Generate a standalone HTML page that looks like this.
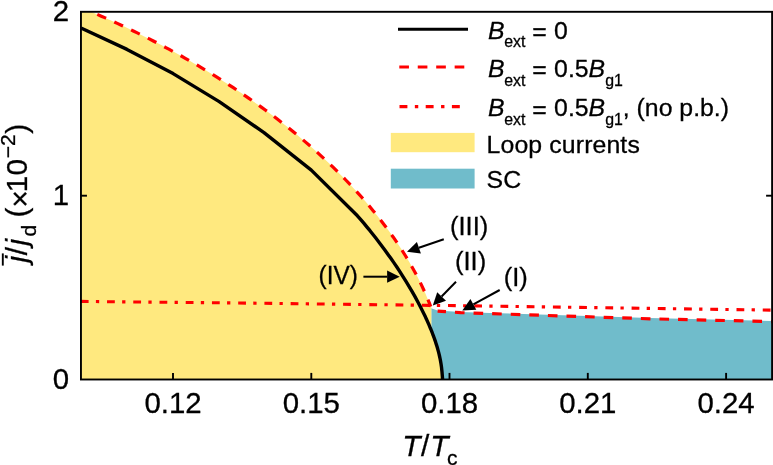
<!DOCTYPE html>
<html><head><meta charset="utf-8"><title>Phase diagram</title>
<style>
html,body{margin:0;padding:0;background:#fff;}
body{width:773px;height:465px;overflow:hidden;}
svg{display:block;}
text{font-family:"Liberation Sans", sans-serif;fill:#000;stroke:#000;stroke-width:0.3px;}
.i{font-style:italic;}
</style></head><body>
<svg width="773" height="465" viewBox="0 0 773 465">
<rect width="773" height="465" fill="#fff"/>
<polygon points="431.3,308.0 431.8,308.5 437.6,310.5 460.6,311.9 490.0,312.9 650.0,318.1 772.1,320.9 772.1,379.5 431.3,379.5" fill="#70bccb"/>
<polygon points="81.0,379.5 81.0,11.8 91.2,11.8 97.3,14.4 101.3,16.2 105.3,17.9 109.3,19.7 113.3,21.5 117.3,23.4 121.3,25.2 125.3,27.1 129.3,29.0 133.3,31.0 137.3,32.9 141.3,34.9 145.3,36.9 149.3,38.9 153.3,41.0 157.3,43.0 161.3,45.1 165.3,47.3 169.3,49.4 173.3,51.6 177.3,53.8 181.3,56.0 185.3,58.3 189.3,60.6 193.3,62.9 197.3,65.2 201.3,67.6 205.3,70.0 209.3,72.4 213.3,74.9 217.3,77.4 221.3,79.9 225.3,82.5 229.3,85.1 233.3,87.7 237.3,90.4 241.3,93.1 245.3,95.8 249.3,98.6 253.3,101.4 257.3,104.2 261.3,107.1 265.3,110.0 269.3,113.0 273.3,116.0 277.3,119.1 281.3,122.2 285.3,125.3 289.3,128.5 293.3,131.8 297.3,135.1 301.3,138.4 305.3,141.9 309.3,145.3 313.3,148.8 317.3,152.4 321.3,156.1 325.3,159.8 329.3,163.6 333.3,167.4 337.3,171.4 341.3,175.4 345.3,179.5 349.3,183.6 353.3,187.9 357.3,192.3 361.3,196.8 365.3,201.3 369.3,206.0 373.3,210.9 377.3,215.8 381.3,220.9 385.3,226.2 389.3,231.6 393.3,237.2 397.3,243.1 401.3,249.1 405.3,255.5 409.3,262.1 413.3,269.2 417.3,276.6 421.3,284.6 425.3,293.3 429.3,302.9 430.7,306.6 431.3,306.6 431.3,379.5" fill="#ffe97f"/>
<polygon points="430.7,379.5 431.0,329.7 431.5,330.9 432.0,332.2 432.5,333.5 433.0,334.8 433.5,336.1 434.0,337.5 434.5,338.9 435.0,340.4 435.5,341.8 436.0,343.4 436.5,344.9 437.0,346.6 437.5,348.3 438.0,350.1 438.5,351.9 439.0,353.9 439.5,356.0 440.0,358.3 440.5,360.9 441.0,363.8 441.5,367.2 442.0,372.0 442.6,379.5" fill="#ffe97f"/>
<g stroke="#000" stroke-width="1.9">
<line x1="173.0" y1="379.5" x2="173.0" y2="372.9"/>
<line x1="311.3" y1="379.5" x2="311.3" y2="372.9"/>
<line x1="449.5" y1="379.5" x2="449.5" y2="372.9"/>
<line x1="587.8" y1="379.5" x2="587.8" y2="372.9"/>
<line x1="726.1" y1="379.5" x2="726.1" y2="372.9"/>
<line x1="80.95" y1="195.7" x2="86.95" y2="195.7"/>
<line x1="772.1" y1="195.7" x2="766.1" y2="195.7"/>
</g>
<polyline points="80.8,301.4 138.0,302.0 258.0,303.2 490.0,306.1 650.0,308.4 772.1,310.1" fill="none" stroke="#ff0000" stroke-width="3.1" stroke-dasharray="7.8 7.3 3.3 7.83"/>
<polyline points="97.3,14.4 101.3,16.2 105.3,17.9 109.3,19.7 113.3,21.5 117.3,23.4 121.3,25.2 125.3,27.1 129.3,29.0 133.3,31.0 137.3,32.9 141.3,34.9 145.3,36.9 149.3,38.9 153.3,41.0 157.3,43.0 161.3,45.1 165.3,47.3 169.3,49.4 173.3,51.6 177.3,53.8 181.3,56.0 185.3,58.3 189.3,60.6 193.3,62.9 197.3,65.2 201.3,67.6 205.3,70.0 209.3,72.4 213.3,74.9 217.3,77.4 221.3,79.9 225.3,82.5 229.3,85.1 233.3,87.7 237.3,90.4 241.3,93.1 245.3,95.8 249.3,98.6 253.3,101.4 257.3,104.2 261.3,107.1 265.3,110.0 269.3,113.0 273.3,116.0 277.3,119.1 281.3,122.2 285.3,125.3 289.3,128.5 293.3,131.8 297.3,135.1 301.3,138.4 305.3,141.9 309.3,145.3 313.3,148.8 317.3,152.4 321.3,156.1 325.3,159.8 329.3,163.6 333.3,167.4 337.3,171.4 341.3,175.4 345.3,179.5 349.3,183.6 353.3,187.9 357.3,192.3 361.3,196.8 365.3,201.3 369.3,206.0 373.3,210.9 377.3,215.8 381.3,220.9 385.3,226.2 389.3,231.6 393.3,237.2 397.3,243.1 401.3,249.1 405.3,255.5 409.3,262.1 413.3,269.2 417.3,276.6 421.3,284.6 425.3,293.3 429.3,302.9 430.7,306.6" fill="none" stroke="#ff0000" stroke-width="3.2" stroke-dasharray="9.6 9"/>
<polyline points="437.6,311.2 460.6,312.6 490.0,313.6 650.0,318.8 772.1,321.6" fill="none" stroke="#ff0000" stroke-width="3.2" stroke-dasharray="9.6 9" stroke-dashoffset="1.2"/>
<polyline points="81.0,28.0 127.0,49.4 173.1,73.6 219.2,101.6 264.0,132.6 311.3,170.1 357.4,215.8 361.0,219.9 364.0,223.4 367.0,227.1 370.0,230.7 373.0,234.5 376.0,238.3 379.0,242.2 382.0,246.2 385.0,250.2 388.0,254.4 391.0,258.6 394.0,262.9 397.0,267.3 400.0,271.9 403.0,276.6 406.0,281.4 409.0,286.3 412.0,291.4 415.0,296.7 418.0,302.2 421.0,308.0 424.0,314.0 425.0,316.1 425.5,317.1 426.0,318.2 426.5,319.3 427.0,320.4 427.5,321.5 428.0,322.6 428.5,323.7 429.0,324.9 429.5,326.1 430.0,327.3 430.5,328.5 431.0,329.7 431.5,330.9 432.0,332.2 432.5,333.5 433.0,334.8 433.5,336.1 434.0,337.5 434.5,338.9 435.0,340.4 435.5,341.8 436.0,343.4 436.5,344.9 437.0,346.6 437.5,348.3 438.0,350.1 438.5,351.9 439.0,353.9 439.5,356.0 440.0,358.3 440.5,360.9 441.0,363.8 441.5,367.2 442.0,372.0 442.6,379.5" fill="none" stroke="#000" stroke-width="3.4" stroke-linejoin="round"/>
<rect x="80.95" y="11.8" width="691.15" height="367.7" fill="none" stroke="#000" stroke-width="1.9"/>
<text x="173.0" y="413.2" font-size="29.4" text-anchor="middle">0.12</text>
<text x="311.3" y="413.2" font-size="29.4" text-anchor="middle">0.15</text>
<text x="449.5" y="413.2" font-size="29.4" text-anchor="middle">0.18</text>
<text x="587.8" y="413.2" font-size="29.4" text-anchor="middle">0.21</text>
<text x="726.1" y="413.2" font-size="29.4" text-anchor="middle">0.24</text>
<text x="69.2" y="388.8" font-size="29.4" text-anchor="end">0</text>
<text x="69.2" y="204.6" font-size="29.4" text-anchor="end">1</text>
<text x="69.0" y="20.8" font-size="29.4" text-anchor="end">2</text>
<text x="402.3" y="455.6" font-size="29.8"><tspan class="i">T</tspan><tspan dx="0.5">/</tspan><tspan class="i" dx="1.0">T</tspan><tspan font-size="21" dy="9.0" dx="-1.6">c</tspan></text>
<text transform="translate(27,262.4) rotate(-90)" font-size="29.8"><tspan class="i">j</tspan><tspan dx="0.6">/</tspan><tspan class="i" dx="1.4">j</tspan><tspan font-size="21" dy="8.6" dx="2.3">d</tspan><tspan dy="-8.6" dx="-0.9"> (</tspan><tspan dy="2.6">×</tspan><tspan dy="-2.6" dx="-2">10</tspan><tspan font-size="21" dy="-11.9" dx="0.8">−2</tspan><tspan dy="11.9" dx="0.6">)</tspan></text>
<line x1="2.8" y1="253.4" x2="2.8" y2="265.6" stroke="#000" stroke-width="1.9"/>
<line x1="398" y1="29.2" x2="468" y2="29.2" stroke="#000" stroke-width="3.1"/>
<line x1="399.3" y1="67" x2="466" y2="67" stroke="#ff0000" stroke-width="3.1" stroke-dasharray="9.65 8.8"/>
<line x1="399.5" y1="106.6" x2="460.2" y2="106.6" stroke="#ff0000" stroke-width="3.1" stroke-dasharray="7.9 7.45 3.4 7.45"/>
<rect x="390.8" y="132.9" width="83.8" height="19.3" fill="#ffe97f"/>
<rect x="390.8" y="168.7" width="83.8" height="19.8" fill="#70bccb"/>
<text x="488" y="38.6" font-size="24.8"><tspan class="i">B</tspan><tspan font-size="15.9" dy="8.7" dx="-0.4">ext</tspan><tspan dy="-7.1"> = </tspan><tspan dy="-1.6" dx="0.5">0</tspan></text>
<text x="488" y="76.8" font-size="24.8"><tspan class="i">B</tspan><tspan font-size="15.9" dy="8.7" dx="-0.4">ext</tspan><tspan dy="-7.1"> = </tspan><tspan dy="-1.6" dx="0.5">0.5<tspan class="i">B</tspan><tspan font-size="15.9" dy="8.7">g1</tspan></tspan></text>
<text x="488" y="116.2" font-size="24.8"><tspan class="i">B</tspan><tspan font-size="15.9" dy="8.7" dx="-0.4">ext</tspan><tspan dy="-7.1"> = </tspan><tspan dy="-1.6" dx="0.5">0.5<tspan class="i">B</tspan><tspan font-size="15.9" dy="8.7">g1</tspan><tspan dy="-8.7">, (no p.b.)</tspan></tspan></text>
<text x="486.6" y="152.5" font-size="24.8" letter-spacing="0.13">Loop currents</text>
<text x="486.6" y="188" font-size="24.8">SC</text>
<text x="450" y="235" font-size="25.5">(III)</text>
<text x="455" y="269.8" font-size="25.5">(II)</text>
<text x="503.8" y="286.4" font-size="25.5">(I)</text>
<text x="318.6" y="284" font-size="25.5" textLength="39.2" lengthAdjust="spacingAndGlyphs">(IV)</text>
<line x1="443.8" y1="239.2" x2="418.9" y2="247.7" stroke="#000" stroke-width="2.0"/><polygon points="407.0,251.8 416.9,241.9 420.9,253.5" fill="#000"/>
<line x1="456.0" y1="281.7" x2="441.6" y2="296.5" stroke="#000" stroke-width="2.0"/><polygon points="432.8,305.5 437.2,292.2 446.0,300.7" fill="#000"/>
<line x1="499.7" y1="290.0" x2="473.4" y2="304.4" stroke="#000" stroke-width="2.0"/><polygon points="462.3,310.4 470.4,299.0 476.3,309.7" fill="#000"/>
<line x1="363.4" y1="276.7" x2="387.1" y2="276.7" stroke="#000" stroke-width="2.0"/><polygon points="399.7,276.7 387.1,282.8 387.1,270.6" fill="#000"/>
</svg>
</body></html>
